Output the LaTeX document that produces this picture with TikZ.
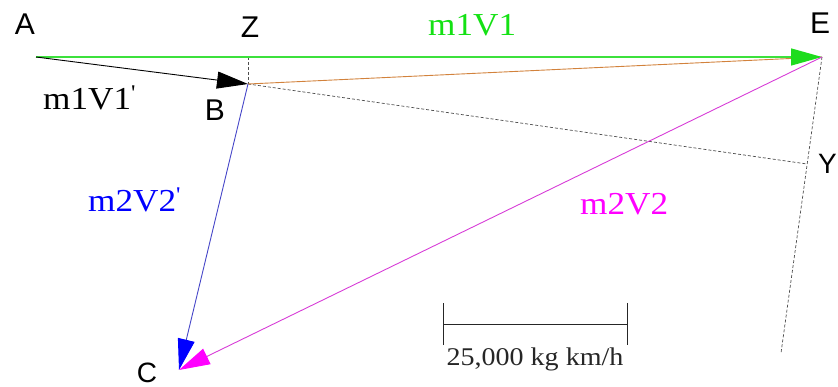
\documentclass[tikz,border=0pt]{standalone}
\usepackage{fontspec}
\setmainfont{Liberation Sans}
\newfontfamily\vecfont[FakeStretch=1.1]{Liberation Serif}
\usetikzlibrary{arrows.meta}
\definecolor{vgreen}{RGB}{60,225,60}
\definecolor{hgreen}{RGB}{30,220,30}
\definecolor{tgreen}{RGB}{20,225,20}
\definecolor{vorange}{RGB}{210,130,60}
\definecolor{vblue}{RGB}{70,70,200}
\definecolor{hblue}{RGB}{0,0,255}
\definecolor{vmagenta}{RGB}{215,60,215}
\definecolor{hmagenta}{RGB}{255,0,255}
\begin{document}
\begin{tikzpicture}[x=1pt,y=-1pt,
        vec/.style={line width=0.9pt,-{Triangle[length=31pt,width=17pt]}},
        aux/.style={line width=0.7pt,gray!60!black,dash pattern=on 3pt off 2pt},
        pnt/.style={font=\fontsize{30}{30}\selectfont,inner sep=0pt},
        lbl/.style={font=\vecfont\fontsize{32}{32}\selectfont,inner sep=0pt,anchor=base west}]
    \useasboundingbox (0,0) rectangle (838,387);

    % points of the momentum triangle
    \coordinate (A) at (36,57);
    \coordinate (B) at (248,84);
    \coordinate (C) at (179,370);
    \coordinate (E) at (822,57);
    \coordinate (Z) at (248,57);
    \coordinate (Y) at (807,164);
    \coordinate (F) at (781,353);

    % construction lines
    \draw[aux] (Z) -- (B);
    \draw[aux] (B) -- (Y);
    \draw[aux] (E) -- (F);
    \draw[line width=0.9pt,vorange] (B) -- (E);

    % momentum vectors
    \draw[vec,line width=1.4pt,draw=vgreen,-{Triangle[length=31pt,width=17pt,color=hgreen]}] (A) -- (E);
    \draw[vec,black] (A) -- (B);
    \draw[vec,vblue,-{Triangle[length=31pt,width=17pt,color=hblue]}] (B) -- (C);
    \draw[vec,vmagenta,-{Triangle[length=31pt,width=17pt,color=hmagenta]}] (E) -- (C);

    \node[pnt] (lA) at (25,24) {A};
    \node[pnt] (lZ) at (250,27) {Z};
    \node[pnt] (lE) at (820,23) {E};
    \node[pnt] (lB) at (215,110) {B};
    \node[pnt,font=\fontsize{28}{28}\selectfont] (lC) at (147,373) {C};
    \node[pnt,font=\fontsize{28}{28}\selectfont,anchor=west] (lY) at (818,164) {Y};

    \node[lbl,text=tgreen] (m1v1) at (428,36) {m1V1};
    \node[lbl] (m1v1p) at (43,110) {m1V1\textsuperscript{\textquotesingle}};
    \node[lbl,text=hblue] (m2v2p) at (88,212) {m2V2\textsuperscript{\textquotesingle}};
    \node[lbl,text=hmagenta] (m2v2) at (580,215) {m2V2};

    % scale bar
    \coordinate (S1) at (443,324);
    \coordinate (S2) at (628,324);
    \draw[line width=0.8pt,gray!30!black,{Bar[width=42pt]}-{Bar[width=42pt]}] (S1) -- (S2);
    \node[lbl,anchor=base,font=\vecfont\fontsize{25.5}{26}\selectfont,text=gray!30!black]
        (scale) at (535,365) {25,000 kg km/h};
\end{tikzpicture}
\end{document}
